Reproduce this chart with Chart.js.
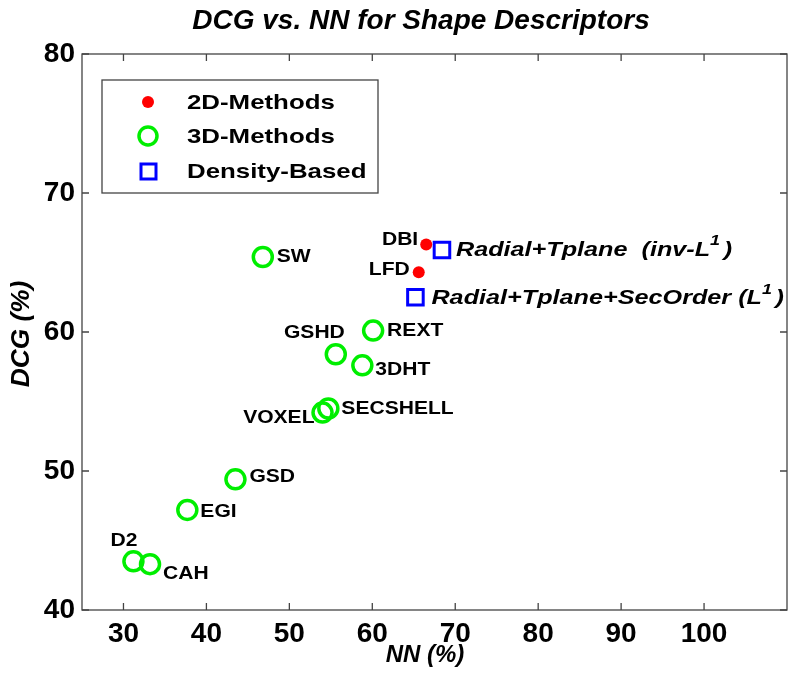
<!DOCTYPE html>
<html>
<head>
<meta charset="utf-8">
<script src="https://cdn.jsdelivr.net/npm/chart.js@4.4.1/dist/chart.umd.min.js"></script>
<style>
  html, body { margin: 0; padding: 0; background: #fff; }
  #wrap { width: 790px; height: 675px; }
</style>
</head>
<body>
<div id="wrap"><canvas id="chart" width="790" height="675"></canvas></div>
<script>
// 2D 方法
const methods2D = ['DBI', 'LFD'];
const nn2D = [66.5, 65.6];
const dcg2D = [66.3, 64.3];

// 3D 方法
const methods3D = ['SW', 'REXT', 'GSHD', '3DHT', 'SECSHELL', 'VOXEL', 'GSD', 'EGI', 'D2', 'CAH'];
const nn3D = [46.8, 60.1, 55.6, 58.8, 54.7, 54.0, 43.5, 37.7, 31.2, 33.2];
const dcg3D = [65.4, 60.1, 58.4, 57.6, 54.5, 54.2, 49.4, 47.2, 43.5, 43.3];

// Density-Based（^ 後一個字元 = 上標）
const methodsDensity = ['Radial+Tplane  (inv-L^1)', 'Radial+Tplane+SecOrder (L^1)'];
const nnDensity = [68.4, 65.2];
const dcgDensity = [65.9, 62.5];

const legendNames = ['2D-Methods', '3D-Methods', 'Density-Based'];
const xTicks = [30, 40, 50, 60, 70, 80, 90, 100];
const yTicks = [40, 50, 60, 70, 80];

// 標籤位置（相對點的像素偏移）
const off2D = [[-8, -4, 'right'], [-9, -2, 'right']];
const off3D = [[14, 0, 'left'], [14, 0, 'left'], [9, -21, 'right'], [13, 5, 'left'], [13, 1, 'left'],
               [-8, 5, 'right'], [14, -2, 'left'], [13, 2, 'left'], [-23, -20, 'left'], [13, 10, 'left']];
const offDensity = [[14, 0, 'left'], [16, 1, 'left']];

const SANS = "'Liberation Sans', Arial, sans-serif";
const NARROW = "'Liberation Sans Narrow', 'Arial Narrow', 'Liberation Sans', sans-serif";

function toPoints(xs, ys) {
    return xs.map((x, i) => ({ x: x, y: ys[i] }));
}

function drawText(ctx, s, x, y, font, align, sx) {
    ctx.save();
    ctx.translate(x, y);
    ctx.scale(sx || 1, 1);
    ctx.font = font;
    ctx.textAlign = align;
    ctx.textBaseline = 'middle';
    ctx.fillStyle = '#000';
    ctx.fillText(s, 0, 0);
    ctx.restore();
}

// 含上標的斜體標籤
function drawSupLabel(ctx, s, x, y, size, sx) {
    const i = s.indexOf('^');
    const main = s.slice(0, i);
    const sup = s.charAt(i + 1);
    const rest = s.slice(i + 2);
    ctx.save();
    ctx.translate(x, y);
    ctx.scale(sx, 1);
    ctx.fillStyle = '#000';
    ctx.textBaseline = 'middle';
    ctx.textAlign = 'left';
    ctx.font = `italic bold ${size}px ${SANS}`;
    ctx.fillText(main, 0, 0);
    let w = ctx.measureText(main).width;
    ctx.font = `italic bold ${Math.round(size * 0.7)}px ${SANS}`;
    ctx.fillText(sup, w, -size * 0.42);
    w += ctx.measureText(sup).width + 3;
    ctx.font = `italic bold ${size}px ${SANS}`;
    ctx.fillText(rest, w, 0);
    ctx.restore();
}

const decorPlugin = {
    id: 'decor',
    afterDatasetsDraw(chart) {
        const ctx = chart.ctx;
        const a = chart.chartArea;
        const xs = chart.scales.x, ys = chart.scales.y;

        // 外框 + 內側刻度
        ctx.save();
        ctx.strokeStyle = '#444';
        ctx.lineWidth = 1.3;
        ctx.strokeRect(a.left, a.top, a.right - a.left, a.bottom - a.top);
        ctx.beginPath();
        xTicks.forEach(v => {
            const px = xs.getPixelForValue(v);
            ctx.moveTo(px, a.bottom); ctx.lineTo(px, a.bottom - 7);
            ctx.moveTo(px, a.top); ctx.lineTo(px, a.top + 7);
        });
        yTicks.forEach(v => {
            const py = ys.getPixelForValue(v);
            ctx.moveTo(a.left, py); ctx.lineTo(a.left + 7, py);
            ctx.moveTo(a.right, py); ctx.lineTo(a.right - 7, py);
        });
        ctx.stroke();
        ctx.restore();

        // 點的標籤
        const labelFont = `bold 18px ${SANS}`;
        const groups = [[0, methods2D, off2D], [1, methods3D, off3D]];
        groups.forEach(([di, names, offs]) => {
            const meta = chart.getDatasetMeta(di);
            meta.data.forEach((pt, i) => {
                const o = offs[i];
                drawText(ctx, names[i], pt.x + o[0], pt.y + o[1], labelFont, o[2], 1.17);
            });
        });
        chart.getDatasetMeta(2).data.forEach((pt, i) => {
            const o = offDensity[i];
            drawSupLabel(ctx, methodsDensity[i], pt.x + o[0], pt.y + o[1], 21, 1.2);
        });

        // 標題與軸標題
        drawText(ctx, 'DCG vs. NN for Shape Descriptors', 421, 21, `italic bold 28px ${NARROW}`, 'center', 1.0);
        drawText(ctx, 'NN (%)', 425, 655, `italic bold 24px ${NARROW}`, 'center', 1);
        ctx.save();
        ctx.translate(22, 334);
        ctx.rotate(-Math.PI / 2);
        drawText(ctx, 'DCG (%)', 0, 0, `italic bold 25px ${NARROW}`, 'center', 1.05);
        ctx.restore();

        // 圖例
        const lx = 102, ly = 80, lw = 276, lh = 113;
        ctx.save();
        ctx.fillStyle = '#fff';
        ctx.fillRect(lx, ly, lw, lh);
        ctx.strokeStyle = '#444';
        ctx.lineWidth = 1.3;
        ctx.strokeRect(lx, ly, lw, lh);
        const rows = [102, 136, 171];
        ctx.fillStyle = '#ff0000';
        ctx.beginPath(); ctx.arc(148, rows[0], 6, 0, Math.PI * 2); ctx.fill();
        ctx.strokeStyle = '#00ee00';
        ctx.lineWidth = 3.5;
        ctx.beginPath(); ctx.arc(148, rows[1], 9, 0, Math.PI * 2); ctx.stroke();
        ctx.strokeStyle = '#0000ff';
        ctx.lineWidth = 3;
        ctx.strokeRect(141, rows[2] - 7, 15, 15);
        ctx.restore();
        legendNames.forEach((n, i) => {
            drawText(ctx, n, 187, rows[i] + 1, `bold 21px ${SANS}`, 'left', 1.23);
        });
    }
};

new Chart(document.getElementById('chart'), {
    type: 'scatter',
    data: {
        datasets: [
            {
                label: legendNames[0],
                data: toPoints(nn2D, dcg2D),
                pointStyle: 'circle',
                pointRadius: 6,
                backgroundColor: '#ff0000',
                borderColor: '#ff0000',
                borderWidth: 0
            },
            {
                label: legendNames[1],
                data: toPoints(nn3D, dcg3D),
                pointStyle: 'circle',
                pointRadius: 9.5,
                backgroundColor: 'rgba(0,0,0,0)',
                borderColor: '#00ee00',
                borderWidth: 3.5
            },
            {
                label: legendNames[2],
                data: toPoints(nnDensity, dcgDensity),
                pointStyle: 'rect',
                pointRadius: 11,
                backgroundColor: 'rgba(0,0,0,0)',
                borderColor: '#0000ff',
                borderWidth: 3
            }
        ]
    },
    options: {
        responsive: false,
        animation: false,
        layout: { autoPadding: false, padding: { left: 0, top: 54, right: 3, bottom: 0 } },
        plugins: {
            legend: { display: false },
            tooltip: { enabled: false }
        },
        scales: {
            x: {
                type: 'linear',
                min: 25,
                max: 110,
                afterBuildTicks: s => { s.ticks = xTicks.map(v => ({ value: v })); },
                afterFit: s => { s.height = 65; s.paddingLeft = 0; s.paddingRight = 0; },
                grid: { display: false, drawTicks: false },
                border: { display: false },
                ticks: {
                    padding: 7,
                    color: '#000',
                    autoSkip: false,
                    maxRotation: 0,
                    font: { family: NARROW, size: 28, weight: 'bold' }
                }
            },
            y: {
                type: 'linear',
                min: 40,
                max: 80,
                afterBuildTicks: s => { s.ticks = yTicks.map(v => ({ value: v })); },
                afterFit: s => { s.width = 82; s.paddingTop = 0; s.paddingBottom = 0; },
                grid: { display: false, drawTicks: false },
                border: { display: false },
                ticks: {
                    padding: 7,
                    color: '#000',
                    autoSkip: false,
                    font: { family: NARROW, size: 28, weight: 'bold' }
                }
            }
        }
    },
    plugins: [decorPlugin]
});
</script>
</body>
</html>
